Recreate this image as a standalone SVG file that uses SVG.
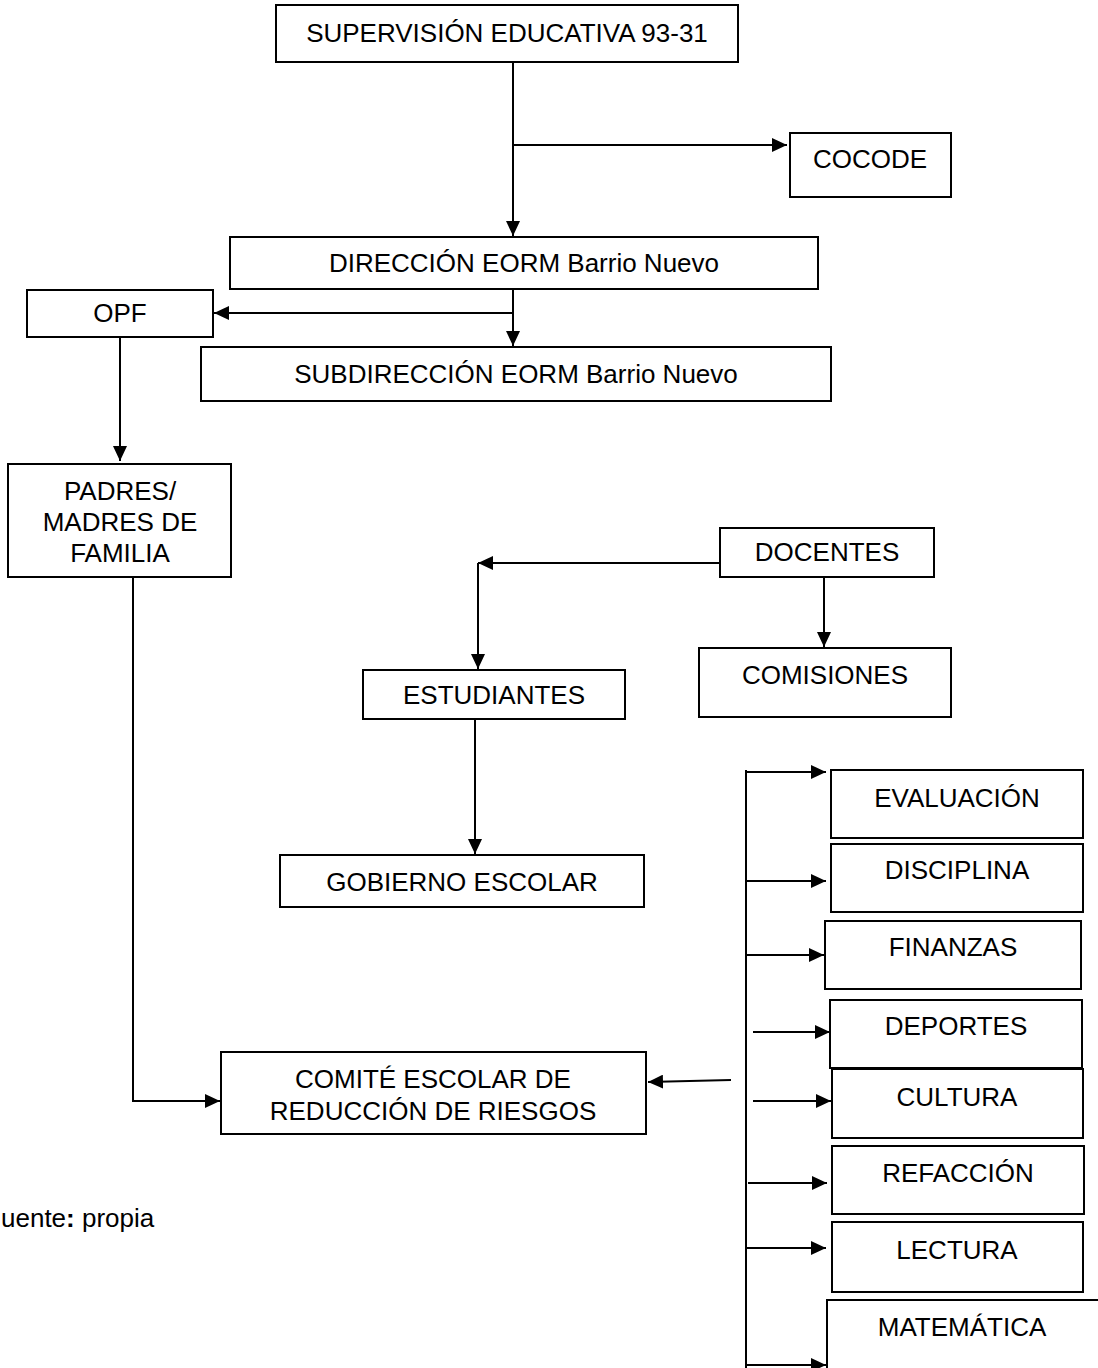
<svg xmlns="http://www.w3.org/2000/svg" width="1098" height="1368" viewBox="0 0 1098 1368">
<style>
.box{fill:#fff;stroke:#000;stroke-width:2}
.t{font-family:"Liberation Sans",Arial,sans-serif;font-size:26px;fill:#000;text-anchor:middle}
.c{fill:none;stroke:#000;stroke-width:2}
</style>
<defs>
<marker id="ah" markerUnits="userSpaceOnUse" markerWidth="16" markerHeight="14" refX="15" refY="7" orient="auto">
<path d="M0,0 L15,7 L0,14 z" fill="#000"/>
</marker>
</defs>
<rect width="1098" height="1368" fill="#fff"/>
<g id="connectors">
<path class="c" d="M513,62 V236" marker-end="url(#ah)"/>
<path class="c" d="M513,145 H787" marker-end="url(#ah)"/>
<path class="c" d="M513,289 V346" marker-end="url(#ah)"/>
<path class="c" d="M513,313 H214" marker-end="url(#ah)"/>
<path class="c" d="M120,337 V461" marker-end="url(#ah)"/>
<path class="c" d="M133,578 V1101 H220" marker-end="url(#ah)"/>
<path class="c" d="M720,563 H478" marker-end="url(#ah)"/>
<path class="c" d="M478,563 V669" marker-end="url(#ah)"/>
<path class="c" d="M824,577 V647" marker-end="url(#ah)"/>
<path class="c" d="M475,719 V854" marker-end="url(#ah)"/>
<path class="c" d="M731,1080 L648,1082" marker-end="url(#ah)"/>
<path class="c" d="M746,770 V1368"/>
<path class="c" d="M746,772 H826" marker-end="url(#ah)"/>
<path class="c" d="M746,881 H826" marker-end="url(#ah)"/>
<path class="c" d="M746,955 H824" marker-end="url(#ah)"/>
<path class="c" d="M753,1032 H830" marker-end="url(#ah)"/>
<path class="c" d="M753,1101 H831" marker-end="url(#ah)"/>
<path class="c" d="M748,1183 H827" marker-end="url(#ah)"/>
<path class="c" d="M746,1248 H826" marker-end="url(#ah)"/>
<path class="c" d="M746,1365 H826" marker-end="url(#ah)"/>
</g>
<g id="supervision"><rect class="box" x="276" y="5" width="462" height="57"/><text class="t" x="507" y="42">SUPERVISIÓN EDUCATIVA 93-31</text></g>
<g id="cocode"><rect class="box" x="790" y="133" width="161" height="64"/><text class="t" x="870" y="168">COCODE</text></g>
<g id="direccion"><rect class="box" x="230" y="237" width="588" height="52"/><text class="t" x="524" y="272">DIRECCIÓN EORM Barrio Nuevo</text></g>
<g id="opf"><rect class="box" x="27" y="290" width="186" height="47"/><text class="t" x="120" y="322">OPF</text></g>
<g id="subdireccion"><rect class="box" x="201" y="347" width="630" height="54"/><text class="t" x="516" y="383">SUBDIRECCIÓN EORM Barrio Nuevo</text></g>
<g id="padres"><rect class="box" x="8" y="464" width="223" height="113"/><text class="t" x="120" y="500">PADRES/</text><text class="t" x="120" y="531">MADRES DE</text><text class="t" x="120" y="562">FAMILIA</text></g>
<g id="docentes"><rect class="box" x="720" y="528" width="214" height="49"/><text class="t" x="827" y="561">DOCENTES</text></g>
<g id="estudiantes"><rect class="box" x="363" y="670" width="262" height="49"/><text class="t" x="494" y="704">ESTUDIANTES</text></g>
<g id="comisiones"><rect class="box" x="699" y="648" width="252" height="69"/><text class="t" x="825" y="684">COMISIONES</text></g>
<g id="gobierno"><rect class="box" x="280" y="855" width="364" height="52"/><text class="t" x="462" y="891">GOBIERNO ESCOLAR</text></g>
<g id="comite"><rect class="box" x="221" y="1052" width="425" height="82"/><text class="t" x="433" y="1088">COMITÉ ESCOLAR DE</text><text class="t" x="433" y="1120">REDUCCIÓN DE RIESGOS</text></g>
<g id="evaluacion"><rect class="box" x="831" y="770" width="252" height="68"/><text class="t" x="957" y="807">EVALUACIÓN</text></g>
<g id="disciplina"><rect class="box" x="831" y="844" width="252" height="68"/><text class="t" x="957" y="879">DISCIPLINA</text></g>
<g id="finanzas"><rect class="box" x="825" y="921" width="256" height="68"/><text class="t" x="953" y="956">FINANZAS</text></g>
<g id="deportes"><rect class="box" x="830" y="1000" width="252" height="68"/><text class="t" x="956" y="1035">DEPORTES</text></g>
<g id="cultura"><rect class="box" x="832" y="1069" width="251" height="69"/><text class="t" x="957" y="1106">CULTURA</text></g>
<g id="refaccion"><rect class="box" x="832" y="1146" width="252" height="68"/><text class="t" x="958" y="1182">REFACCIÓN</text></g>
<g id="lectura"><rect class="box" x="832" y="1222" width="251" height="70"/><text class="t" x="957" y="1259">LECTURA</text></g>
<g id="matematica"><rect class="box" x="827" y="1300" width="280" height="80"/><text class="t" x="962" y="1336">MATEMÁTICA</text></g>
<g id="fuente"><text x="1" y="1227" style="font-family:'Liberation Sans',Arial,sans-serif;font-size:26px;fill:#000">uente<tspan font-weight="bold">:</tspan> propia</text></g>
</svg>
